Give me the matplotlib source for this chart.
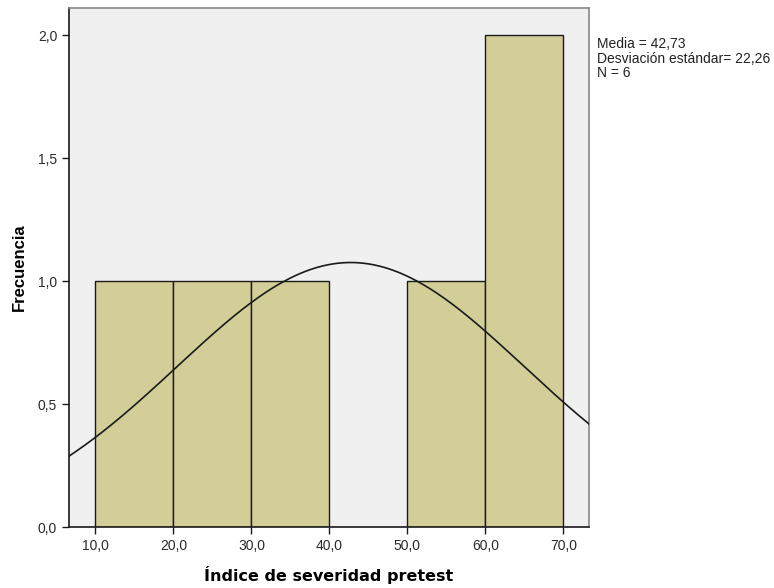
import numpy as np
import matplotlib
matplotlib.use('Agg')
import matplotlib.pyplot as plt

plt.rcParams['font.family'] = ['Liberation Sans', 'DejaVu Sans']

bin_edges = [10, 20, 30, 40, 50, 60, 70]
counts = [1, 1, 1, 0, 1, 2]
media = 42.73
desv = 22.26
n = 6
x_ticks = [10, 20, 30, 40, 50, 60, 70]
y_ticks = [0.0, 0.5, 1.0, 1.5, 2.0]


def coma(v, d=1):
    return ('%.*f' % (d, v)).replace('.', ',')


fig = plt.figure(figsize=(7.74, 5.88), dpi=100)
ax = fig.add_axes([0.0891, 0.1037, 0.672, 0.8827])
ax.set_facecolor('#f0f0f0')

lefts = bin_edges[:-1]
widths = np.diff(bin_edges)
for l, w, c in zip(lefts, widths, counts):
    if c > 0:
        ax.bar(l, c, width=w, align='edge', color='#d3ce97', edgecolor='#1a1a1a', linewidth=1.0, zorder=2)

ax.set_xlim(6.6, 73.3)
ax.set_ylim(0, 2.11)

# curva normal escalada a frecuencias (N * ancho de intervalo)
xs = np.linspace(6.6, 73.3, 400)
bw = 10
ys = n * bw * np.exp(-0.5 * ((xs - media) / desv) ** 2) / (desv * np.sqrt(2 * np.pi))
ax.plot(xs, ys, color='#1a1a1a', linewidth=1.2, zorder=3)

ax.set_xticks(x_ticks)
ax.set_xticklabels([coma(v) for v in x_ticks])
ax.set_yticks(y_ticks)
ax.set_yticklabels([coma(v) for v in y_ticks])
ax.tick_params(labelsize=10, length=5, width=1, color='#1a1a1a', labelcolor='#2a2a2a')

for s in ['left', 'bottom']:
    ax.spines[s].set_color('#1a1a1a')
    ax.spines[s].set_linewidth(1.2)
for s in ['top', 'right']:
    ax.spines[s].set_color('#888888')
    ax.spines[s].set_linewidth(1.2)

ax.set_xlabel('Índice de severidad pretest', fontsize=11.5, fontweight='bold', labelpad=9.5,
              family='DejaVu Sans')
ax.set_ylabel('Frecuencia', fontsize=12, fontweight='bold', labelpad=7.5)

fig.text(597 / 774, 1 - 37 / 588,
         'Media = %s\nDesviación estándar= %s\nN = %d' % (coma(media, 2), coma(desv, 2), n),
         fontsize=10, va='top', ha='left', color='#222222', linespacing=1.05)

fig.savefig('out.png', dpi=100)
